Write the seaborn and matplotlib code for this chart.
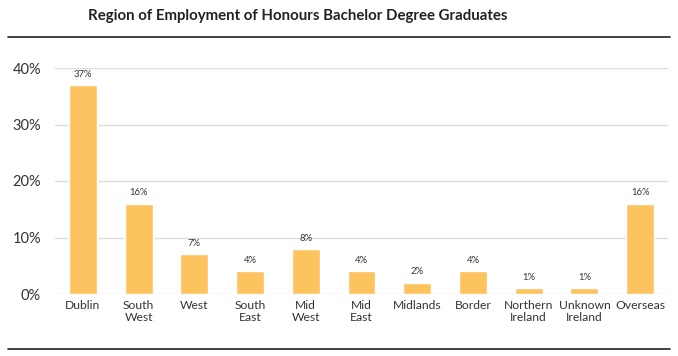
import matplotlib
matplotlib.use("Agg")
import matplotlib.pyplot as plt
import seaborn as sns
import pandas as pd
from matplotlib.lines import Line2D

categories = ["Dublin", "South\nWest", "West", "South\nEast", "Mid\nWest", "Mid\nEast",
              "Midlands", "Border", "Northern\nIreland", "Unknown\nIreland", "Overseas"]
values = [37, 16, 7, 4, 8, 4, 2, 4, 1, 1, 16]
yticks = [0, 10, 20, 30, 40]
title = "Region of Employment of Honours Bachelor Degree Graduates"

sns.set_theme(style="white")
plt.rcParams['font.family'] = ['Lato', 'DejaVu Sans']

df = pd.DataFrame({"region": categories, "pct": values})

fig = plt.figure(figsize=(6.78, 3.56), dpi=100)
ax = fig.add_axes([55/678, 62/356, 613/678, 226/356])
sns.barplot(data=df, x="region", y="pct", color="#FDC35E", width=0.5, ax=ax,
            saturation=1, zorder=3)
ax.set_xlim(-0.5, len(categories) - 0.5)
ax.set_ylim(0, 40)
ax.set_yticks(yticks)
ax.set_yticklabels([f"{v}%" for v in yticks], fontsize=10.5, color="#333333")
ax.tick_params(axis="x", labelsize=8.7, colors="#333333", length=0, pad=4)
ax.tick_params(axis="y", length=0, pad=10)
ax.set_xlabel("")
ax.set_ylabel("")
ax.grid(axis="y", color="#dddddd", linewidth=1, zorder=0)
for s in ax.spines.values():
    s.set_visible(False)
for i, v in enumerate(values):
    ax.annotate(f"{v}%", (i, v), xytext=(0, 4.5), textcoords="offset points",
                ha="center", va="bottom", fontsize=6.8, color="#333333")

fig.text(88/678, 1 - 16/356, title, fontsize=10.8, fontweight="bold",
         ha="left", va="center", color="#222222")
fig.add_artist(Line2D([8/678, 670/678], [1 - 37/356, 1 - 37/356], color="#222222", linewidth=1.2))
fig.add_artist(Line2D([8/678, 670/678], [1 - 349/356, 1 - 349/356], color="#222222", linewidth=1.2))

fig.savefig("out.png", dpi=100)
